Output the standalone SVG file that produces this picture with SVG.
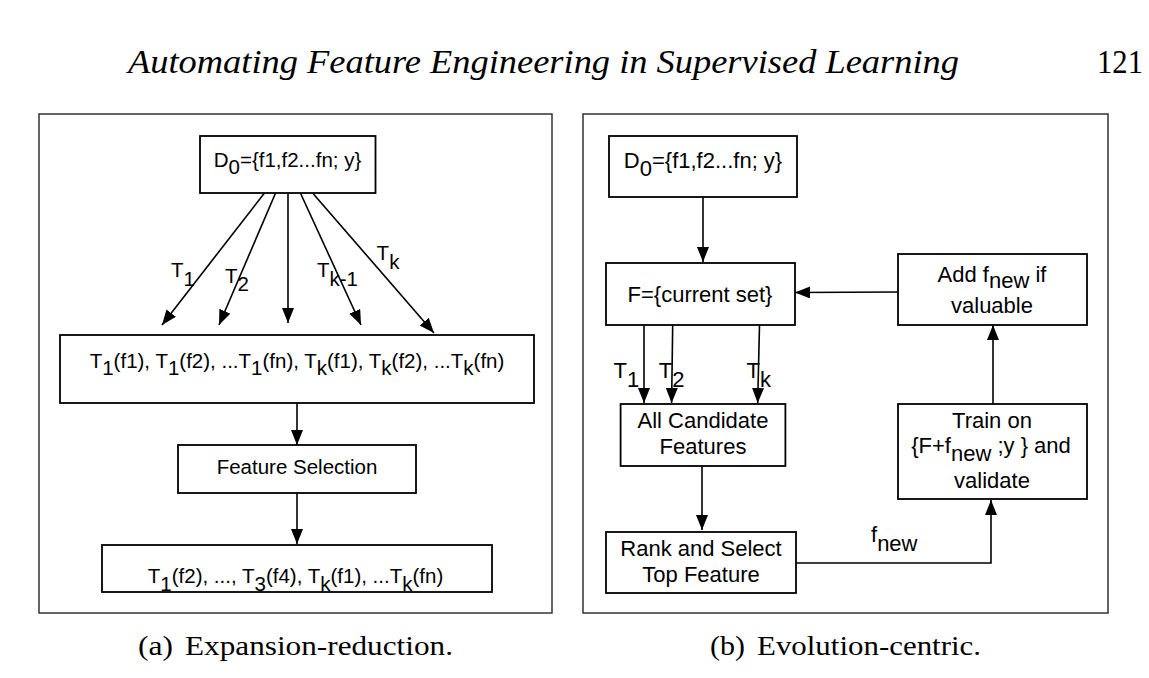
<svg xmlns="http://www.w3.org/2000/svg" width="1149" height="678" viewBox="0 0 1149 678">
<style>
.box{fill:#fff;stroke:#000;stroke-width:1.8}
.panel{fill:none;stroke:#333;stroke-width:1.5}
.ln{fill:none;stroke:#000;stroke-width:1.6}
.t{font-family:"Liberation Sans",Arial,Helvetica,sans-serif;fill:#000}
.l{font-size:20.5px}
.r{font-size:22px}
.c{text-anchor:middle}
.serif{font-family:"Liberation Serif","Times New Roman",serif;fill:#000}
</style>
<defs>
<marker id="ah" markerUnits="userSpaceOnUse" markerWidth="16" markerHeight="13" refX="15" refY="6" orient="auto">
<path d="M0,0 L15,6 L0,12 Z" fill="#000"/>
</marker>
</defs>
<rect width="1149" height="678" fill="#fff"/>
<g id="header">
<text class="serif" x="128" y="73" font-size="34" font-style="italic" textLength="831" lengthAdjust="spacingAndGlyphs">Automating Feature Engineering in Supervised Learning</text>
<text class="serif" x="1097" y="73" font-size="34" textLength="46" lengthAdjust="spacingAndGlyphs">121</text>
</g>
<g id="panel-a">
<rect class="panel" x="39" y="114" width="513" height="499"/>
</g>
<g id="panel-b">
<rect class="panel" x="583" y="114" width="525" height="499"/>
</g>
<g id="connectors">
<line class="ln" x1="264.5" y1="193" x2="162" y2="325" marker-end="url(#ah)"/>
<line class="ln" x1="275.6" y1="193" x2="219" y2="325" marker-end="url(#ah)"/>
<line class="ln" x1="288" y1="193" x2="288" y2="323" marker-end="url(#ah)"/>
<line class="ln" x1="300.4" y1="193" x2="361" y2="325" marker-end="url(#ah)"/>
<line class="ln" x1="312.6" y1="193" x2="434" y2="333" marker-end="url(#ah)"/>
<line class="ln" x1="297" y1="403" x2="297" y2="445" marker-end="url(#ah)"/>
<line class="ln" x1="297" y1="493" x2="297" y2="544" marker-end="url(#ah)"/>
<line class="ln" x1="703" y1="197" x2="703" y2="262" marker-end="url(#ah)"/>
<line class="ln" x1="898" y1="292" x2="795" y2="292.5" marker-end="url(#ah)"/>
<line class="ln" x1="644" y1="325" x2="644" y2="403" marker-end="url(#ah)"/>
<line class="ln" x1="672.7" y1="325" x2="671.6" y2="403" marker-end="url(#ah)"/>
<line class="ln" x1="759.5" y1="325" x2="757.7" y2="403" marker-end="url(#ah)"/>
<line class="ln" x1="702" y1="466" x2="702" y2="530" marker-end="url(#ah)"/>
<polyline class="ln" points="796,563 991,563 991,500" marker-end="url(#ah)"/>
<line class="ln" x1="993" y1="404" x2="993" y2="325" marker-end="url(#ah)"/>
<g class="t l">
<text x="171" y="277">T<tspan dy="9">1</tspan></text>
<text x="225" y="283">T<tspan dy="8">2</tspan></text>
<text x="317" y="277">T<tspan dy="9">k-1</tspan></text>
<text x="376.6" y="260">T<tspan dy="9">k</tspan></text>
</g>
<g class="t r">
<text x="613.6" y="378">T<tspan dy="9">1</tspan></text>
<text x="658.7" y="378">T<tspan dy="9">2</tspan></text>
<text x="746.6" y="378">T<tspan dy="9">k</tspan></text>
<text x="871" y="542">f<tspan dy="9">new</tspan></text>
</g>
</g>
<g id="a-d0">
<rect class="box" x="200" y="136" width="175.5" height="57"/>
<text class="t l c" x="287.5" y="167">D<tspan dy="7">0</tspan><tspan dy="-7">={f1,f2...fn; y}</tspan></text>
</g>
<g id="a-expanded">
<rect class="box" x="60" y="335" width="474" height="68"/>
<text class="t l c" x="297" y="368">T<tspan dy="7">1</tspan><tspan dy="-7">(f1), T</tspan><tspan dy="7">1</tspan><tspan dy="-7">(f2), ...T</tspan><tspan dy="7">1</tspan><tspan dy="-7">(fn), T</tspan><tspan dy="7">k</tspan><tspan dy="-7">(f1), T</tspan><tspan dy="7">k</tspan><tspan dy="-7">(f2), ...T</tspan><tspan dy="7">k</tspan><tspan dy="-7">(fn)</tspan></text>
</g>
<g id="a-selection">
<rect class="box" x="178" y="445" width="238" height="48"/>
<text class="t l c" x="297" y="474">Feature Selection</text>
</g>
<g id="a-result">
<rect class="box" x="102" y="545" width="390" height="47"/>
<text class="t l c" x="295.5" y="583">T<tspan dy="8">1</tspan><tspan dy="-8">(f2), ..., T</tspan><tspan dy="8">3</tspan><tspan dy="-8">(f4), T</tspan><tspan dy="8">k</tspan><tspan dy="-8">(f1), ...T</tspan><tspan dy="8">k</tspan><tspan dy="-8">(fn)</tspan></text>
</g>
<g id="b-d0">
<rect class="box" x="609" y="136" width="188" height="61"/>
<text class="t r c" x="703" y="168">D<tspan dy="8">0</tspan><tspan dy="-8">={f1,f2...fn; y}</tspan></text>
</g>
<g id="b-current">
<rect class="box" x="606" y="263" width="189" height="62"/>
<text class="t r c" x="700" y="302">F={current set}</text>
</g>
<g id="b-add">
<rect class="box" x="898" y="254" width="189" height="71"/>
<text class="t r c" x="992" y="282">Add f<tspan dy="6">new</tspan><tspan dy="-6"> if</tspan></text>
<text class="t r c" x="992" y="313">valuable</text>
</g>
<g id="b-candidates">
<rect class="box" x="620.6" y="404" width="164.8" height="62"/>
<text class="t r c" x="703" y="428">All Candidate</text>
<text class="t r c" x="703" y="454">Features</text>
</g>
<g id="b-rank">
<rect class="box" x="606" y="532" width="190" height="61"/>
<text class="t r c" x="701" y="556">Rank and Select</text>
<text class="t r c" x="701" y="582">Top Feature</text>
</g>
<g id="b-train">
<rect class="box" x="898" y="404" width="189" height="95"/>
<text class="t r c" x="992" y="428">Train on</text>
<text class="t r c" x="991" y="453">{F+f<tspan dy="8">new</tspan><tspan dy="-8"> ;y } and</tspan></text>
<text class="t r c" x="992" y="488">validate</text>
</g>
<g id="captions">
<text class="serif" x="138" y="655" font-size="28" textLength="35" lengthAdjust="spacingAndGlyphs">(a)</text>
<text class="serif" x="185" y="655" font-size="28" textLength="268" lengthAdjust="spacingAndGlyphs">Expansion-reduction.</text>
<text class="serif" x="710" y="655" font-size="28" textLength="35" lengthAdjust="spacingAndGlyphs">(b)</text>
<text class="serif" x="757" y="655" font-size="28" textLength="224" lengthAdjust="spacingAndGlyphs">Evolution-centric.</text>
</g>
</svg>
